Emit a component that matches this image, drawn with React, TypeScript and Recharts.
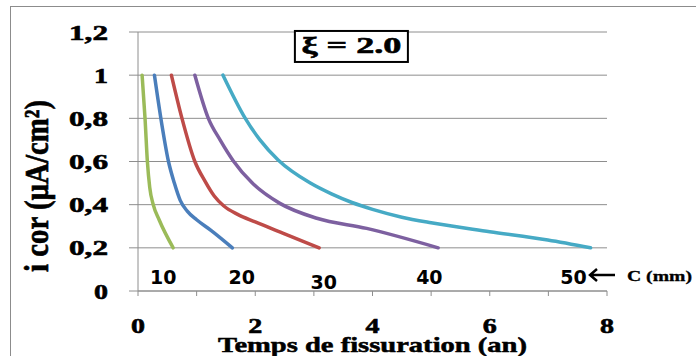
import React from 'react';
import { LineChart, Line, XAxis, YAxis, CartesianGrid, ReferenceDot } from 'recharts';

// ---- data (Temps de fissuration in years vs i_cor in µA/cm²) ----
const tempsC10 = [0.07, 0.12, 0.16, 0.2, 0.26, 0.36, 0.6];
const icorC10 = [1, 0.8, 0.6, 0.48, 0.4, 0.33, 0.2];

const tempsC20 = [0.28, 0.39, 0.52, 0.62, 0.72, 0.84, 1.0, 1.25, 1.61];
const icorC20 = [1, 0.8, 0.6, 0.5, 0.42, 0.37, 0.33, 0.28, 0.2];

const tempsC30 = [0.57, 0.75, 0.97, 1.14, 1.3, 1.46, 1.7, 2.0, 2.5, 3.09];
const icorC30 = [1, 0.8, 0.6, 0.51, 0.44, 0.395, 0.355, 0.32, 0.265, 0.2];

const tempsC40 = [0.97, 1.2, 1.4, 1.62, 1.95, 2.42, 3.05, 3.9, 5.12];
const icorC40 = [1, 0.8, 0.7, 0.605, 0.5, 0.406, 0.337, 0.29, 0.2];

const tempsC50 = [1.45, 1.83, 2.08, 2.39, 2.94, 3.3, 3.65, 4.0, 4.5, 5.0, 6.0, 6.99, 7.72];
const icorC50 = [1, 0.8, 0.7, 0.607, 0.5, 0.45, 0.41, 0.378, 0.342, 0.316, 0.275, 0.236, 0.2];

const coverLabels = ['10', '20', '30', '40', '50'];
const coverLabelTemps = [0.43, 1.77, 3.17, 4.97, 7.43];
const coverLabelIcor = [0.065, 0.065, 0.042, 0.065, 0.065];

const xTicks = [0, 1, 2, 3, 4, 5, 6, 7, 8];
const yTicks = [0, 0.2, 0.4, 0.6, 0.8, 1, 1.2];

const xTitle = 'Temps de fissuration (an)';
const yTitle = 'i cor (µA/cm²)';
const xiText = 'ξ = 2.0';
const unitText = 'C (mm)';

const colors = ['#9BBB59', '#4A7EBB', '#BE4B48', '#7D60A0', '#46AAC5'];

const toPoints = (xs: number[], ys: number[]) => xs.map((x, i) => ({ x, y: ys[i] }));
const seriesList = [
  toPoints(tempsC10, icorC10),
  toPoints(tempsC20, icorC20),
  toPoints(tempsC30, icorC30),
  toPoints(tempsC40, icorC40),
  toPoints(tempsC50, icorC50),
];

const SERIF = "'Liberation Serif', 'Times New Roman', serif";
const SANS = "'DejaVu Sans', Verdana, sans-serif";
const GRID = '#8e8e8e';

const YTick = (props: any) => {
  const { x, y, payload } = props;
  const s = String(payload.value).replace('.', ',');
  return (
    <text
      x={x}
      y={y}
      dy={7.5}
      textAnchor="end"
      fontFamily={SERIF}
      fontWeight="bold"
      fontSize={22}
      fill="#000"
      stroke="#000"
      strokeWidth={0.6}
      textLength={s.length > 1 ? 39 : 14}
      lengthAdjust="spacingAndGlyphs"
    >
      {s}
    </text>
  );
};

const XTick = (props: any) => {
  const { x, y, payload } = props;
  const v = payload.value;
  if (v % 2 !== 0) return <g />;
  return (
    <text
      x={x}
      y={y}
      dy={36.5}
      textAnchor="middle"
      fontFamily={SERIF}
      fontWeight="bold"
      fontSize={22}
      fill="#000"
      stroke="#000"
      strokeWidth={0.6}
      textLength={14}
      lengthAdjust="spacingAndGlyphs"
    >
      {v}
    </text>
  );
};

const XTitle = (props: any) => {
  const vb = props.viewBox || {};
  const cx = vb.x + vb.width / 2;
  return (
    <text
      x={cx}
      y={vb.y + 60.5}
      textAnchor="middle"
      fontFamily={SERIF}
      fontWeight="bold"
      fontSize={21}
      fill="#000"
      stroke="#000"
      strokeWidth={0.5}
      textLength={309}
      lengthAdjust="spacingAndGlyphs"
    >
      {xTitle}
    </text>
  );
};

const YTitle = (props: any) => {
  const vb = props.viewBox || {};
  const tx = vb.x - 30;
  const ty = vb.y + 154;
  return (
    <text
      transform={`translate(${tx},${ty}) rotate(-90) scale(1,1.3)`}
      x={0}
      y={0}
      textAnchor="middle"
      fontFamily={SERIF}
      fontWeight="bold"
      fontSize={26}
      fill="#000"
      stroke="#000"
      strokeWidth={0.5}
      textLength={172}
      lengthAdjust="spacingAndGlyphs"
    >
      {yTitle}
    </text>
  );
};

const coverLabel = (text: string) => (props: any) => {
  const vb = props.viewBox || {};
  const cx = vb.x + (vb.width || 0) / 2;
  const cy = vb.y + (vb.height || 0) / 2;
  return (
    <text x={cx} y={cy} dy={7} textAnchor="middle" fontFamily={SANS} fontWeight="bold" fontSize={19} fill="#000">
      {text}
    </text>
  );
};

const XiBox = (props: any) => {
  const vb = props.viewBox || {};
  const cx = vb.x + (vb.width || 0) / 2;
  const cy = vb.y + (vb.height || 0) / 2;
  return (
    <g>
      <rect x={cx - 56.5} y={cy - 15.5} width={113} height={31} fill="#fff" stroke="#000" strokeWidth={2} />
      <text
        x={cx}
        y={cy + 7}
        textAnchor="middle"
        fontFamily={SERIF}
        fontWeight="bold"
        fontSize={24}
        fill="#000"
        stroke="#000"
        strokeWidth={0.6}
        textLength={100}
        lengthAdjust="spacingAndGlyphs"
      >
        {xiText}
      </text>
    </g>
  );
};

const UnitNote = (props: any) => {
  const vb = props.viewBox || {};
  const cx = vb.x + (vb.width || 0) / 2;
  const cy = vb.y + (vb.height || 0) / 2;
  return (
    <g>
      <path
        d={`M${cx + 8},${cy - 2} H${cx - 17} M${cx - 10},${cy - 8} L${cx - 17},${cy - 2} L${cx - 10},${cy + 4}`}
        stroke="#000"
        strokeWidth={2.5}
        fill="none"
      />
      <text
        x={cx + 20}
        y={cy + 4}
        fontFamily={SERIF}
        fontWeight="bold"
        fontSize={15}
        fill="#000"
        stroke="#000"
        strokeWidth={0.3}
        textLength={65}
        lengthAdjust="spacingAndGlyphs"
      >
        {unitText}
      </text>
    </g>
  );
};

export default function App() {
  return (
    <div style={{ position: 'absolute', left: 0, top: 0, width: 696, height: 356, overflow: 'hidden', background: '#fff' }}>
      <div
        style={{
          position: 'absolute',
          left: 10,
          top: 6,
          width: 686,
          height: 350,
          boxSizing: 'border-box',
          borderLeft: '1.5px solid #8c8c8c',
          borderTop: '1.5px solid #8c8c8c',
        }}
      />
      <div style={{ position: 'absolute', left: 0, top: 0 }}>
        <LineChart width={696} height={356} margin={{ top: 32, right: 89, bottom: 35, left: 78 }}>
          <CartesianGrid vertical={false} stroke={GRID} strokeWidth={1} />
          <XAxis
            type="number"
            dataKey="x"
            domain={[0, 8]}
            ticks={xTicks}
            interval={0}
            height={30}
            tickSize={5}
            tickMargin={0}
            axisLine={{ stroke: GRID, strokeWidth: 1 }}
            tickLine={{ stroke: GRID, strokeWidth: 1 }}
            tick={<XTick />}
            label={<XTitle />}
            allowDataOverflow
          />
          <YAxis
            type="number"
            dataKey="y"
            domain={[0, 1.2]}
            ticks={yTicks}
            interval={0}
            width={60}
            tickSize={9}
            tickMargin={21}
            axisLine={{ stroke: GRID, strokeWidth: 1 }}
            tickLine={{ stroke: GRID, strokeWidth: 1 }}
            tick={<YTick />}
            label={<YTitle />}
            allowDataOverflow
          />
          {seriesList.map((pts, i) => (
            <Line
              key={coverLabels[i]}
              data={pts}
              dataKey="y"
              type="monotone"
              stroke={colors[i]}
              strokeWidth={3.5}
              strokeLinejoin="round"
              strokeLinecap="round"
              dot={false}
              activeDot={false}
              isAnimationActive={false}
            />
          ))}
          {coverLabels.map((t, i) => (
            <ReferenceDot
              key={'lbl' + t}
              x={coverLabelTemps[i]}
              y={coverLabelIcor[i]}
              r={0}
              fill="none"
              stroke="none"
              ifOverflow="visible"
              label={coverLabel(t)}
            />
          ))}
          <ReferenceDot x={3.64} y={1.133} r={0} fill="none" stroke="none" ifOverflow="visible" label={XiBox} />
          <ReferenceDot x={8} y={0.065} r={0} fill="none" stroke="none" ifOverflow="visible" label={UnitNote} />
        </LineChart>
      </div>
    </div>
  );
}
